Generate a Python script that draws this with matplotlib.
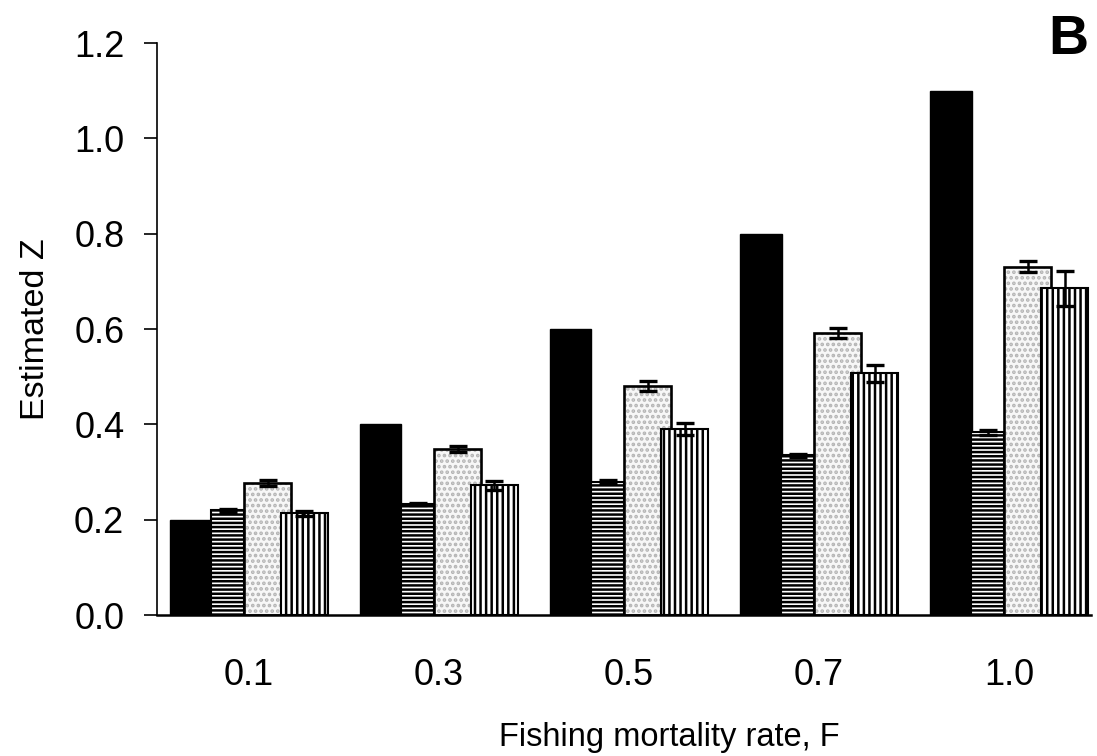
import matplotlib
matplotlib.use("Agg")
import matplotlib.pyplot as plt
import numpy as np

# Fishing mortality levels (categories on the x axis)
f_labels = ["0.1", "0.3", "0.5", "0.7", "1.0"]

# True total mortality Z (solid black bars)
true_z = [0.2, 0.4, 0.6, 0.8, 1.1]

# Estimated Z by three methods, with standard errors
est_h = [0.220, 0.233, 0.280, 0.335, 0.383]
err_h = [0.003, 0.003, 0.003, 0.003, 0.005]

est_s = [0.277, 0.348, 0.481, 0.592, 0.731]
err_s = [0.007, 0.007, 0.010, 0.010, 0.012]

est_v = [0.213, 0.272, 0.390, 0.507, 0.685]
err_v = [0.006, 0.009, 0.012, 0.018, 0.036]

y_ticks = [0.0, 0.2, 0.4, 0.6, 0.8, 1.0, 1.2]

plt.rcParams["font.family"] = ["Liberation Sans", "DejaVu Sans"]
plt.rcParams["hatch.linewidth"] = 1.8

fig = plt.figure(figsize=(10.97, 7.56), dpi=100)
ax = fig.add_axes([0.1431, 0.1865, 0.8514, 0.7566])

x = np.arange(len(f_labels))

# bar layout within each group (left edge offset, width)
black_off, black_w = -0.416, 0.218
h_off, h_w = -0.200, 0.175
s_off, s_w = -0.026, 0.247
v_off, v_w = 0.168, 0.247

ax.bar(x + black_off, true_z, width=black_w, align="edge",
       color="black", edgecolor="black", linewidth=1.0, zorder=2)

ax.bar(x + h_off, est_h, width=h_w, align="edge", facecolor="white",
       edgecolor="black", hatch="----", linewidth=1.5, zorder=2)
ax.errorbar(x + h_off + h_w / 2, est_h, yerr=err_h, fmt="none",
            ecolor="black", elinewidth=1.8, capsize=6.5, capthick=2.4, zorder=3)

# stippled bars: fine grey dots, then a black outline on top
ax.bar(x + s_off, est_s, width=s_w, align="edge", facecolor="#f7f7f7",
       edgecolor="#b4b4b4", hatch="...", linewidth=0, zorder=2)
ax.bar(x + s_off, est_s, width=s_w, align="edge", fill=False,
       edgecolor="black", linewidth=1.9, zorder=2.1)
ax.errorbar(x + s_off + s_w / 2, est_s, yerr=err_s, fmt="none",
            ecolor="black", elinewidth=1.8, capsize=6.5, capthick=2.4, zorder=3)

ax.bar(x + v_off, est_v, width=v_w, align="edge", facecolor="white",
       edgecolor="black", hatch="|||", linewidth=1.5, zorder=2.2)
ax.errorbar(x + v_off + v_w / 2, est_v, yerr=err_v, fmt="none",
            ecolor="black", elinewidth=1.8, capsize=6.5, capthick=2.4, zorder=3)

ax.set_xlim(-0.484, 4.43)
ax.set_ylim(0, 1.2)
ax.set_yticks(y_ticks)
ax.set_yticklabels([f"{v:.1f}" for v in y_ticks])
ax.set_xticks(x)
ax.set_xticklabels(f_labels)

ax.spines["top"].set_visible(False)
ax.spines["right"].set_visible(False)
ax.spines["left"].set_linewidth(1.2)
ax.spines["bottom"].set_linewidth(1.8)

ax.tick_params(axis="y", direction="out", length=9.5, width=1.2,
               pad=14, labelsize=26)
ax.tick_params(axis="x", length=0, pad=31, labelsize=26)

ax.set_xlabel("Fishing mortality rate, F", fontsize=23.5)
ax.xaxis.label.set_va("center")
ax.xaxis.set_label_coords(0.549, -0.215)

ax.set_ylabel("Estimated Z", fontsize=24.5)
ax.yaxis.label.set_va("center")
ax.yaxis.set_label_coords(-0.1306, 0.5)

fig.text(1068 / 1097, 1 - 40 / 756, "B", fontsize=40, fontweight="bold",
         ha="center", va="center")

fig.savefig("out.png", dpi=100)
